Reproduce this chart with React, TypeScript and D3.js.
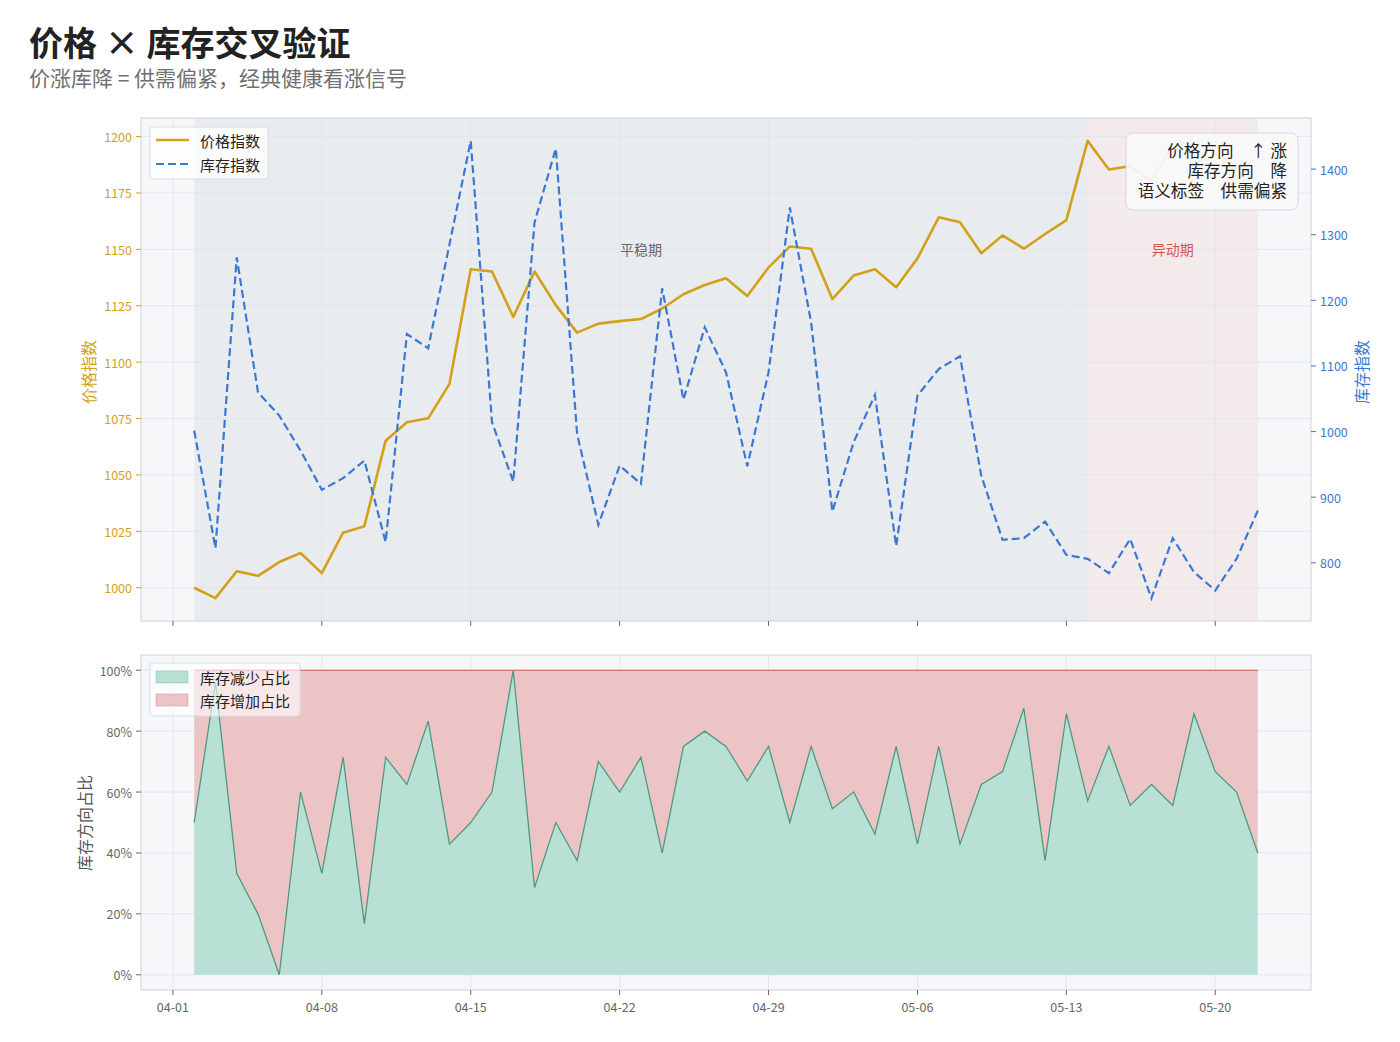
import React from 'react';
import * as d3 from 'd3';

const dates = [
  '2024-04-02','2024-04-03','2024-04-04','2024-04-05','2024-04-06','2024-04-07','2024-04-08','2024-04-09','2024-04-10','2024-04-11',
  '2024-04-12','2024-04-13','2024-04-14','2024-04-15','2024-04-16','2024-04-17','2024-04-18','2024-04-19','2024-04-20','2024-04-21',
  '2024-04-22','2024-04-23','2024-04-24','2024-04-25','2024-04-26','2024-04-27','2024-04-28','2024-04-29','2024-04-30','2024-05-01',
  '2024-05-02','2024-05-03','2024-05-04','2024-05-05','2024-05-06','2024-05-07','2024-05-08','2024-05-09','2024-05-10','2024-05-11',
  '2024-05-12','2024-05-13','2024-05-14','2024-05-15','2024-05-16','2024-05-17','2024-05-18','2024-05-19','2024-05-20','2024-05-21',
  '2024-05-22',
];

const priceIndex = [
  1000.0, 995.4, 1007.3, 1005.3, 1011.4, 1015.4, 1006.5, 1024.4, 1027.3, 1065.2,
  1073.4, 1075.1, 1090.4, 1141.2, 1140.2, 1120.1, 1140.2, 1125.3, 1113.1, 1117.1,
  1118.2, 1119.1, 1123.8, 1130.1, 1134.2, 1137.2, 1129.3, 1142.0, 1151.3, 1150.3,
  1128.0, 1138.4, 1141.2, 1133.2, 1146.0, 1164.2, 1162.0, 1148.3, 1156.2, 1150.3,
  1156.8, 1163.0, 1198.1, 1185.4, 1186.9, 1180.5, 1196.0, 1188.0, 1192.0, 1185.0,
  1190.0,
];

const inventoryIndex = [
  1001.5, 822.4, 1265.5, 1059.9, 1024.3, 971.0, 911.2, 929.0, 955.8, 831.5,
  1148.7, 1126.9, 1285.0, 1443.0, 1014.2, 923.8, 1318.8, 1431.5, 996.4, 857.9,
  948.2, 920.3, 1218.3, 1048.7, 1158.9, 1090.4, 947.2, 1090.4, 1341.6, 1166.5,
  878.1, 983.8, 1055.8, 825.4, 1054.8, 1095.4, 1114.7, 932.9, 835.0, 837.6,
  862.9, 812.2, 806.1, 784.3, 836.5, 746.2, 837.6, 785.8, 757.8, 806.1,
  879.6,
];

const decreaseShare = [
  50, 96, 33.3, 20, 0, 60, 33.3, 71.4, 16.7, 71.4,
  62.5, 83.3, 42.9, 50, 60, 100, 28.6, 50, 37.5, 70,
  60, 71.4, 40, 75, 80, 75, 63.6, 75, 50, 75,
  54.5, 60, 46.2, 75, 42.9, 75, 42.9, 62.5, 66.7, 87.5,
  37.5, 85.7, 57.1, 75, 55.6, 62.5, 55.6, 85.7, 66.7, 60,
  40,
];

const xTickDates = ['2024-04-01','2024-04-08','2024-04-15','2024-04-22','2024-04-29','2024-05-06','2024-05-13','2024-05-20'];
const priceTicks = [1000, 1025, 1050, 1075, 1100, 1125, 1150, 1175, 1200];
const inventoryTicks = [800, 900, 1000, 1100, 1200, 1300, 1400];
const shareTicks = [0, 20, 40, 60, 80, 100];

const periods = [
  { label: '平稳期', start: '2024-04-02', end: '2024-05-14', kind: 'stable' },
  { label: '异动期', start: '2024-05-14', end: '2024-05-22', kind: 'anomaly' },
];

const infoLines = ['价格方向\u3000↑ 涨', '库存方向\u3000降', '语义标签\u3000供需偏紧'];

const FONT = '"Noto Sans CJK SC", "Noto Sans", sans-serif';
const C = {
  price: '#d4a01c',
  inv: '#3a78d4',
  bg: '#f5f7f9',
  stable: '#e9ecee',
  anomaly: '#f3eaec',
  grid: '#e0e4e8',
  spine: '#cdd3d9',
  text: '#666666',
  green: '#b9e0d4',
  greenLine: '#4f9a7e',
  red: '#ecc4c6',
  redLine: '#d9534f',
};

const parse = d3.utcParse('%Y-%m-%d');
const fmt = d3.utcFormat('%m-%d');

function padExtent(vals: number[], frac = 0.05): [number, number] {
  const [mn, mx] = d3.extent(vals) as [number, number];
  const p = (mx - mn) * frac;
  return [mn - p, mx + p];
}

export default function App() {
  const W = 1400, H = 1042;
  const L = 141, R = 1311;
  const topT = 118, topB = 621;
  const botT = 655, botB = 990;

  const xs = dates.map(d => parse(d) as Date);
  const t0 = xs[0].getTime(), t1 = xs[xs.length - 1].getTime();
  const tp = (t1 - t0) * 0.05;
  const x = d3.scaleUtc().domain([new Date(t0 - tp), new Date(t1 + tp)]).range([L, R]);

  const yP = d3.scaleLinear().domain(padExtent(priceIndex)).range([topB, topT]);
  const yI = d3.scaleLinear().domain(padExtent(inventoryIndex)).range([topB, topT]);
  const yS = d3.scaleLinear().domain([-5, 105]).range([botB, botT]);

  const priceLine = d3.line<number>().x((_, i) => x(xs[i])).y(d => yP(d))(priceIndex) || '';
  const invLine = d3.line<number>().x((_, i) => x(xs[i])).y(d => yI(d))(inventoryIndex) || '';
  const greenArea = d3.area<number>().x((_, i) => x(xs[i])).y0(yS(0)).y1(d => yS(d))(decreaseShare) || '';
  const greenTop = d3.line<number>().x((_, i) => x(xs[i])).y(d => yS(d))(decreaseShare) || '';
  const redArea = d3.area<number>().x((_, i) => x(xs[i])).y0(d => yS(d)).y1(yS(100))(decreaseShare) || '';
  const redTop = d3.line<number>().x((_, i) => x(xs[i])).y(() => yS(100))(decreaseShare) || '';

  const xt = xTickDates.map(d => parse(d) as Date);

  return (
    <svg width={W} height={H} style={{ position: 'absolute', left: 0, top: 0, fontFamily: FONT }}>
      <rect x={0} y={0} width={W} height={H} fill="#ffffff" />
      {/* Title */}
      <text x={29} y={56} fontSize={34} fontWeight={700} fill="#222">价格 × 库存交叉验证</text>
      <text x={29} y={86} fontSize={21} fill="#707070">价涨库降 = 供需偏紧，经典健康看涨信号</text>

      {/* ===== Top chart ===== */}
      <rect x={L} y={topT} width={R - L} height={topB - topT} fill={C.bg} />
      {periods.map(p => {
        const a = x(parse(p.start) as Date), b = x(parse(p.end) as Date);
        return <rect key={p.label} x={a} y={topT} width={b - a} height={topB - topT}
          fill={p.kind === 'stable' ? C.stable : C.anomaly} />;
      })}
      {priceTicks.map(t => (
        <line key={'gp' + t} x1={L} x2={R} y1={yP(t)} y2={yP(t)} stroke={C.grid} strokeWidth={0.8} />
      ))}
      {xt.map((d, i) => (
        <line key={'gx' + i} x1={x(d)} x2={x(d)} y1={topT} y2={topB} stroke={C.grid} strokeWidth={0.8} />
      ))}
      {periods.map(p => {
        const a = x(parse(p.start) as Date), b = x(parse(p.end) as Date);
        return <text key={'pl' + p.label} x={(a + b) / 2} y={249} fontSize={14} textAnchor="middle"
          dominantBaseline="central" fill={p.kind === 'stable' ? '#666' : '#d9534f'}>{p.label}</text>;
      })}
      <path d={priceLine} fill="none" stroke={C.price} strokeWidth={2.6} strokeLinejoin="round" />
      <path d={invLine} fill="none" stroke={C.inv} strokeWidth={2.2} strokeDasharray="8,4" />
      <rect x={L} y={topT} width={R - L} height={topB - topT} fill="none" stroke={C.spine} strokeWidth={1} />

      {/* legend top */}
      <g>
        <rect x={150} y={127} width={118} height={52} rx={3} fill="#ffffff" fillOpacity={0.8} stroke="#d8dde2" />
        <line x1={156} x2={189} y1={140} y2={140} stroke={C.price} strokeWidth={2.6} />
        <text x={200} y={140} fontSize={15} dominantBaseline="central" fill="#222">价格指数</text>
        <line x1={156} x2={189} y1={164} y2={164} stroke={C.inv} strokeWidth={2.2} strokeDasharray="8,4" />
        <text x={200} y={164} fontSize={15} dominantBaseline="central" fill="#222">库存指数</text>
      </g>

      {/* info box */}
      <g>
        <rect x={1126} y={133} width={172} height={77} rx={7} fill="#f8f9fa" fillOpacity={0.92} stroke="#d3d9de" />
        {infoLines.map((s, i) => (
          <text key={i} x={1287} y={157 + i * 20} fontSize={16.6} textAnchor="end" fill="#222">{s}</text>
        ))}
      </g>

      {/* left axis */}
      {priceTicks.map(t => (
        <g key={'lp' + t}>
          <line x1={L - 5} x2={L} y1={yP(t)} y2={yP(t)} stroke={C.price} strokeWidth={1} />
          <text x={L - 9} y={yP(t)} fontSize={12.5} textAnchor="end" dominantBaseline="central" fill={C.price}>{t}</text>
        </g>
      ))}
      <text transform={`translate(88,372) rotate(-90)`} fontSize={16} textAnchor="middle" dominantBaseline="central" fill={C.price}>价格指数</text>
      {/* right axis */}
      {inventoryTicks.map(t => (
        <g key={'ri' + t}>
          <line x1={R} x2={R + 5} y1={yI(t)} y2={yI(t)} stroke={C.inv} strokeWidth={1} />
          <text x={R + 9} y={yI(t)} fontSize={12.5} textAnchor="start" dominantBaseline="central" fill={C.inv}>{t}</text>
        </g>
      ))}
      <text transform={`translate(1361,372) rotate(-90)`} fontSize={16} textAnchor="middle" dominantBaseline="central" fill={C.inv}>库存指数</text>
      {xt.map((d, i) => (
        <line key={'tx' + i} x1={x(d)} x2={x(d)} y1={topB} y2={topB + 5} stroke="#666" strokeWidth={1} />
      ))}

      {/* ===== Bottom chart ===== */}
      <rect x={L} y={botT} width={R - L} height={botB - botT} fill={C.bg} />
      {shareTicks.map(t => (
        <line key={'gs' + t} x1={L} x2={R} y1={yS(t)} y2={yS(t)} stroke={C.grid} strokeWidth={0.8} />
      ))}
      {xt.map((d, i) => (
        <line key={'gbx' + i} x1={x(d)} x2={x(d)} y1={botT} y2={botB} stroke={C.grid} strokeWidth={0.8} />
      ))}
      <path d={redArea} fill={C.red} />
      <path d={greenArea} fill={C.green} />
      <path d={redTop} fill="none" stroke={C.redLine} strokeWidth={1.2} />
      <path d={greenTop} fill="none" stroke={C.greenLine} strokeWidth={1.3} />
      <rect x={L} y={botT} width={R - L} height={botB - botT} fill="none" stroke={C.spine} strokeWidth={1} />

      <g>
        <rect x={150} y={663} width={150} height={53} rx={3} fill="#ffffff" fillOpacity={0.6} stroke="#d8dde2" />
        <rect x={156} y={671} width={32} height={12} fill={C.green} stroke={C.greenLine} strokeOpacity={0.3} />
        <text x={200} y={677} fontSize={15} dominantBaseline="central" fill="#222">库存减少占比</text>
        <rect x={156} y={694} width={32} height={12} fill={C.red} stroke={C.redLine} strokeOpacity={0.3} />
        <text x={200} y={700} fontSize={15} dominantBaseline="central" fill="#222">库存增加占比</text>
      </g>

      {shareTicks.map(t => (
        <g key={'ls' + t}>
          <line x1={L - 5} x2={L} y1={yS(t)} y2={yS(t)} stroke="#666" strokeWidth={1} />
          <text x={L - 9} y={yS(t)} fontSize={12.5} textAnchor="end" dominantBaseline="central" fill={C.text}>{t + '%'}</text>
        </g>
      ))}
      <text transform={`translate(84,823) rotate(-90)`} fontSize={16} textAnchor="middle" dominantBaseline="central" fill="#555">库存方向占比</text>
      {xt.map((d, i) => (
        <g key={'bx' + i}>
          <line x1={x(d)} x2={x(d)} y1={botB} y2={botB + 5} stroke="#666" strokeWidth={1} />
          <text x={x(d)} y={1006} fontSize={12.5} textAnchor="middle" dominantBaseline="central" fill={C.text}>{fmt(d)}</text>
        </g>
      ))}
    </svg>
  );
}
